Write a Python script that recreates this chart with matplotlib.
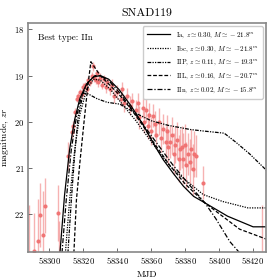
import numpy as np
import matplotlib.pyplot as plt

plt.rcParams['font.family'] = 'serif'
plt.rcParams['font.serif'] = ['cmr10', 'DejaVu Serif']
plt.rcParams['mathtext.fontset'] = 'cm'
plt.rcParams['axes.formatter.use_mathtext'] = True

# --- observed photometry (MJD, magnitude, error) ---
obs_mjd = [58288.2, 58291.2, 58293.2, 58294.5, 58296.5, 58297.5, 58305.3, 58306.0,
           58311.2, 58313.2, 58313.8, 58315.1, 58316.1, 58317.0, 58318.0, 58319.2,
           58320.0, 58321.0, 58322.0, 58323.0, 58324.0, 58325.0, 58325.6, 58326.5,
           58327.3, 58328.0, 58329.0, 58330.0, 58331.0, 58332.0, 58333.2, 58334.0,
           58336.0, 58337.0, 58338.0, 58340.0, 58342.0, 58343.0, 58344.0, 58346.0,
           58347.5, 58349.0, 58351.0, 58352.0, 58353.0, 58355.0, 58356.0, 58357.0,
           58358.0, 58359.0, 58360.0, 58361.2, 58362.0, 58363.0, 58364.5, 58366.0,
           58367.0, 58368.5, 58369.5, 58370.0, 58371.0, 58372.5, 58373.5, 58374.0,
           58375.5, 58376.5, 58377.0, 58378.0, 58378.8, 58380.0, 58380.8, 58381.5,
           58382.8, 58383.5, 58384.6, 58385.5, 58386.3, 58390.6, 58425.0]
obs_mag = [23.10, 22.80, 22.58, 22.02, 22.45, 21.82, 21.98, 23.00,
           20.74, 20.23, 20.09, 19.80, 19.50, 19.45, 19.36, 19.40,
           19.25, 19.21, 19.30, 19.10, 19.15, 19.00, 18.80, 19.05,
           19.10, 18.95, 19.15, 19.05, 19.20, 19.08, 19.25, 19.15,
           19.30, 19.20, 19.45, 19.35, 19.50, 19.30, 19.60, 19.45,
           19.65, 19.55, 19.75, 19.60, 19.90, 19.70, 20.00, 19.75,
           20.10, 19.85, 20.20, 19.87, 20.05, 20.30, 20.00, 20.35,
           20.16, 20.45, 20.20, 20.55, 20.44, 20.30, 20.70, 20.50,
           20.40, 20.80, 20.60, 20.55, 20.80, 20.50, 20.95, 20.70,
           20.88, 20.60, 21.03, 20.70, 20.75, 21.32, 23.20]
obs_err = [1.30, 0.82, 0.90, 0.70, 0.95, 0.60, 0.60, 0.85,
           0.30, 0.12, 0.10, 0.10, 0.08, 0.08, 0.07, 0.10,
           0.08, 0.08, 0.10, 0.08, 0.08, 0.08, 0.10, 0.08,
           0.08, 0.08, 0.10, 0.10, 0.10, 0.10, 0.12, 0.10,
           0.12, 0.12, 0.15, 0.15, 0.15, 0.15, 0.18, 0.18,
           0.20, 0.18, 0.22, 0.22, 0.25, 0.22, 0.25, 0.25,
           0.28, 0.25, 0.30, 0.25, 0.28, 0.30, 0.30, 0.30,
           0.32, 0.35, 0.35, 0.40, 0.35, 0.40, 0.45, 0.40,
           0.40, 0.50, 0.45, 0.45, 0.55, 0.45, 0.50, 0.45,
           0.50, 0.45, 0.55, 0.50, 0.45, 0.35, 1.40]

# --- fitted model light curves ---
ia_mjd = [58306.3, 58309, 58312, 58315, 58318, 58322, 58326, 58330, 58335, 58341,
          58348, 58355, 58361, 58367, 58373, 58379, 58385, 58391.6, 58405, 58420, 58428]
ia_mag = [22.85, 21.60, 20.60, 19.95, 19.50, 19.18, 19.03, 19.00, 19.08, 19.30,
          19.65, 20.05, 20.45, 20.82, 21.12, 21.40, 21.62, 21.76, 22.05, 22.28, 22.28]

ibc_mjd = [58309.5, 58312, 58315, 58318, 58322, 58326, 58330, 58336, 58343, 58351,
           58359, 58365, 58371, 58378, 58384.7, 58390.6, 58402, 58417, 58428]
ibc_mag = [22.85, 21.70, 20.60, 19.85, 19.30, 19.08, 19.10, 19.30, 19.62, 19.98,
           20.38, 20.68, 20.96, 21.20, 21.40, 21.58, 21.73, 21.87, 21.87]

iip_mjd = [58311.0, 58313, 58315, 58317, 58320, 58323, 58328, 58334, 58341.6, 58350,
           58360, 58370, 58383, 58390, 58403, 58410, 58418, 58428]
iip_mag = [22.85, 21.70, 20.70, 19.90, 19.38, 19.40, 19.50, 19.58, 19.62, 19.80,
           19.98, 20.08, 20.17, 20.20, 20.25, 20.45, 20.70, 21.06]

iil_mjd = [58314.5, 58316, 58318, 58320.5, 58322.5, 58324.5, 58330, 58336, 58342,
           58348, 58355, 58362, 58371, 58380, 58391.6, 58412, 58428]
iil_mag = [22.85, 21.70, 20.90, 20.00, 19.30, 18.70, 19.00, 19.22, 19.45, 19.72,
           20.08, 20.48, 20.95, 21.35, 21.76, 22.33, 22.55]

iin_mjd = [58307.5, 58310, 58313, 58316, 58319, 58323, 58327, 58331, 58336, 58342,
           58349, 58357, 58365, 58373, 58382, 58391.6, 58398, 58406.3, 58412.2]
iin_mag = [22.85, 21.70, 20.60, 19.90, 19.45, 19.15, 19.00, 19.02, 19.15, 19.40,
           19.75, 20.15, 20.55, 20.95, 21.35, 21.76, 22.10, 22.60, 22.85]

labels = [r'Ia, $z \simeq 0.30$, $M \simeq -21.8^m$',
          r'Ibc, $z \simeq 0.30$, $M \simeq -21.8^m$',
          r'IIP, $z \simeq 0.11$, $M \simeq -19.3^m$',
          r'IIL, $z \simeq 0.16$, $M \simeq -20.7^m$',
          r'IIn, $z \simeq 0.02$, $M \simeq -15.8^m$']

fig = plt.figure(figsize=(2.8, 2.8), dpi=100)
ax = fig.add_axes([0.10, 0.101, 0.85, 0.817])

ax.errorbar(obs_mjd, obs_mag, yerr=obs_err, fmt='none', ecolor='#f08080',
            elinewidth=1.0, alpha=0.6, zorder=1)
ax.plot(obs_mjd, obs_mag, 'o', ms=2.0, color='#f07070', alpha=0.9, zorder=1)

lw = 0.9
ax.plot(ia_mjd, ia_mag, color='k', lw=lw, ls='-', label=labels[0])
ax.plot(ibc_mjd, ibc_mag, color='k', lw=lw, ls=(0, (1, 1)), label=labels[1])
ax.plot(iip_mjd, iip_mag, color='k', lw=lw, ls=(0, (3, 1, 1, 1, 1, 1)), label=labels[2])
ax.plot(iil_mjd, iil_mag, color='k', lw=lw, ls=(0, (3, 1.5)), label=labels[3])
ax.plot(iin_mjd, iin_mag, color='k', lw=lw, ls=(0, (4, 1.5, 1, 1.5)), label=labels[4])

ax.set_xlim(58287.5, 58427.6)
ax.set_ylim(22.82, 17.86)
ax.set_xticks([58300, 58320, 58340, 58360, 58380, 58400, 58420])
ax.set_yticks([18, 19, 20, 21, 22])
ax.tick_params(direction='in', labelsize=6.2, length=3, width=0.6, pad=2.5,
               color='#555555')
for s in ax.spines.values():
    s.set_color('#888888')
    s.set_linewidth(1.2)

ax.set_xlabel('MJD', fontsize=6.8, labelpad=3)
ax.set_ylabel(r'magnitude, $zr$', fontsize=6.8, labelpad=2)
ax.set_title('SNAD119', fontsize=8.5, pad=5)
ax.text(0.04, 0.955, 'Best type: IIn', transform=ax.transAxes, fontsize=6.5,
        va='top', ha='left')
ax.legend(loc='upper right', fontsize=5.0, handlelength=3.4, framealpha=1,
          borderpad=0.55, labelspacing=0.6, handletextpad=0.8)

fig.savefig('out.png', dpi=100)
